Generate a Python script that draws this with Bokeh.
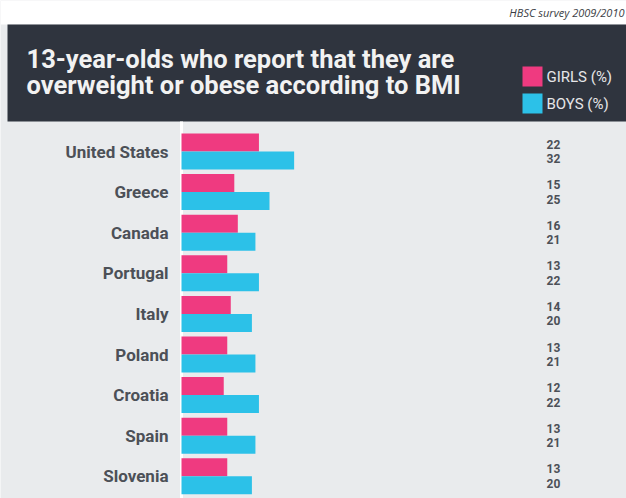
from bokeh.plotting import figure
from bokeh.models import Range1d, ColumnDataSource
from bokeh.core.properties import value
from bokeh.embed import file_html
from bokeh.resources import INLINE

# ---- data ----
countries = ["United States", "Greece", "Canada", "Portugal", "Italy",
             "Poland", "Croatia", "Spain", "Slovenia"]
girls = [22, 15, 16, 13, 14, 13, 12, 13, 13]
boys = [32, 25, 21, 22, 20, 21, 22, 21, 20]

title_lines = ["13-year-olds who report that they are",
               "overweight or obese according to BMI"]
source_note = "HBSC survey 2009/2010"
legend_labels = ["GIRLS (%)", "BOYS (%)"]

PINK = "#ef3a80"
BLUE = "#2cc1e8"
BG = "#e9ebed"
HEAD = "#2f343e"
TXT = "#4c5057"

W, H = 626, 498
K = 3.52        # px per percent
X0 = 181        # px of bar baseline
Y0 = 151        # px of first group centre
PITCH = 40.6    # px between groups


def px2x(p):
    return (p - X0) / K


def px2y(p):
    return (p - Y0) / PITCH


p = figure(width=W, height=H, output_backend="svg", toolbar_location=None,
           x_range=Range1d(px2x(0), px2x(W)),
           y_range=Range1d(px2y(H), px2y(0)),
           min_border=0, min_border_left=0, min_border_right=0,
           min_border_top=0, min_border_bottom=0,
           background_fill_color=BG, border_fill_color=BG,
           outline_line_color=None)
p.axis.visible = False
p.grid.visible = False

# top white strip and dark header
p.quad(left=px2x(0), right=px2x(W), top=px2y(0), bottom=px2y(24),
       fill_color="white", line_color=None)
p.quad(left=px2x(7), right=px2x(W), top=px2y(24), bottom=px2y(121),
       fill_color=HEAD, line_color=None)

p.text(x=[px2x(W - 2)], y=[px2y(12)], text=[source_note],
       text_font=value("Open Sans"), text_font_size="11px",
       text_font_style="italic", text_color="#3a3d44",
       text_align="right", text_baseline="middle")

p.text(x=[px2x(26), px2x(26)], y=[px2y(58), px2y(84)], text=title_lines,
       text_font=value("Roboto"), text_font_size="25.5px",
       text_font_style="bold", text_color="#f2f2f2",
       text_align="left", text_baseline="middle")

# legend
for i, (lab, col) in enumerate(zip(legend_labels, [PINK, BLUE])):
    cy = 76 + i * 27
    p.quad(left=px2x(522), right=px2x(542), top=px2y(cy - 10),
           bottom=px2y(cy + 10), fill_color=col, line_color=None)
    p.text(x=[px2x(546)], y=[px2y(cy)], text=[lab],
           text_font=value("Roboto"), text_font_size="15px",
           text_color="#e6e6e8", text_align="left", text_baseline="middle")

# bars
idx = list(range(len(countries)))
bh = 18 / PITCH
src = ColumnDataSource(dict(
    idx=idx,
    yg=[i - bh / 2 for i in idx],
    yb=[i + bh / 2 for i in idx],
    girls=girls, boys=boys,
    country=countries,
    gl=[str(v) for v in girls],
    bl=[str(v) for v in boys],
    yglab=[i - 0.18 for i in idx],
    yblab=[i + 0.17 for i in idx],
))

p.segment(x0=[0], x1=[0], y0=[px2y(121)], y1=[px2y(H)],
          line_color="white", line_width=3)

p.hbar(y="yg", left=0, right="girls", height=bh, source=src,
       fill_color=PINK, line_color=None)
p.hbar(y="yb", left=0, right="boys", height=bh, source=src,
       fill_color=BLUE, line_color=None)

p.text(x=px2x(168), y="idx", text="country", source=src,
       text_font=value("Roboto"), text_font_size="17px",
       text_font_style="bold", text_color=TXT,
       text_align="right", text_baseline="middle")

p.text(x=px2x(553), y="yglab", text="gl", source=src,
       text_font=value("Roboto"), text_font_size="12px",
       text_font_style="bold", text_color=TXT,
       text_align="center", text_baseline="middle")
p.text(x=px2x(553), y="yblab", text="bl", source=src,
       text_font=value("Roboto"), text_font_size="12px",
       text_font_style="bold", text_color=TXT,
       text_align="center", text_baseline="middle")

open("out.html", "w").write(file_html(p, INLINE))
